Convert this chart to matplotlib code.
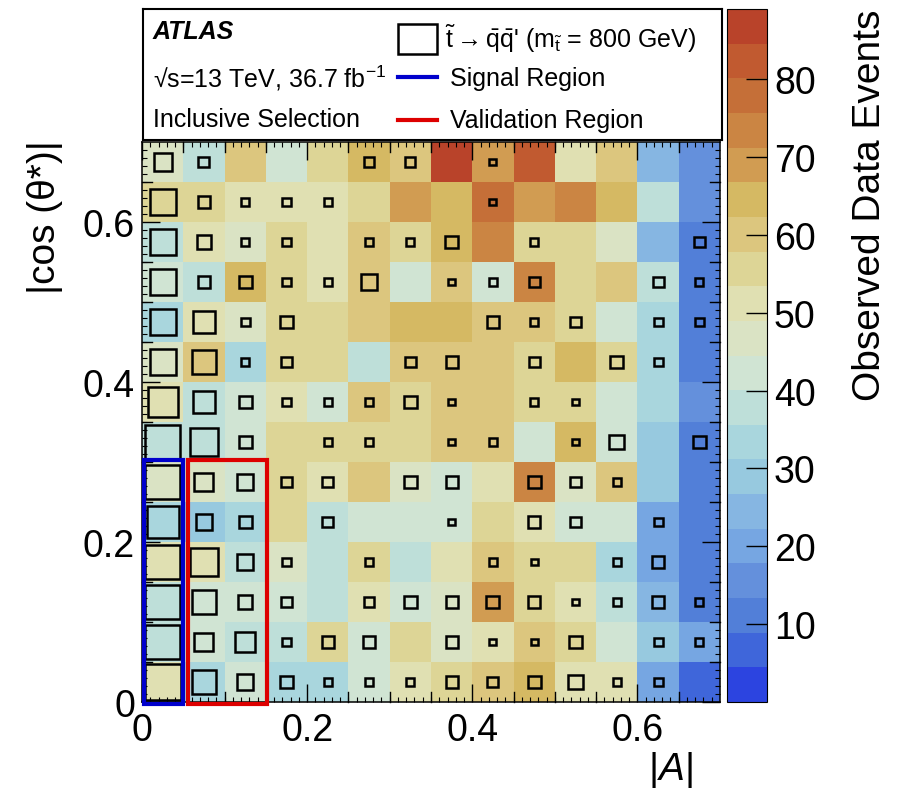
#!/usr/bin/env python3

import numpy as np
import matplotlib
matplotlib.use('Agg')
import matplotlib.pyplot as plt
from matplotlib.colors import ListedColormap, BoundaryNorm
from matplotlib.patches import Rectangle

plt.rcParams['font.family'] = 'Liberation Sans'
plt.rcParams['mathtext.fontset'] = 'custom'
plt.rcParams['mathtext.rm'] = 'Liberation Sans'
plt.rcParams['mathtext.it'] = 'Liberation Sans:italic'
plt.rcParams['mathtext.bf'] = 'Liberation Sans:bold'

# binning of |A| (x) and |cos(theta*)| (y)
a_edges = np.linspace(0.0, 0.7, 15)
cos_edges = np.linspace(0.0, 0.7, 15)

# observed data events, rows listed from top (0.65-0.7) to bottom (0-0.05)
observed_rows = [
    [45, 38, 61, 44, 56, 66, 58, 89, 70, 83, 52, 60, 24, 15],
    [55, 55, 50, 50, 52, 56, 69, 65, 78, 70, 74, 65, 38, 16],
    [40, 53, 47, 57, 52, 61, 57, 65, 74, 57, 56, 46, 24, 11],
    [44, 39, 66, 56, 53, 61, 43, 60, 43, 74, 57, 60, 40, 11],
    [33, 50, 46, 57, 54, 61, 66, 65, 60, 60, 56, 44, 33, 11],
    [48, 61, 33, 57, 57, 39, 58, 61, 61, 56, 66, 54, 33, 11],
    [53, 39, 43, 49, 44, 58, 55, 61, 61, 56, 57, 44, 33, 15],
    [39, 38, 44, 57, 55, 54, 55, 61, 61, 44, 66, 44, 29, 11],
    [48, 46, 44, 57, 53, 61, 48, 44, 53, 74, 47, 61, 29, 11],
    [33, 29, 35, 54, 38, 41, 43, 44, 55, 53, 44, 44, 20, 11],
    [50, 52, 38, 46, 40, 55, 40, 52, 61, 56, 56, 33, 20, 11],
    [39, 44, 44, 44, 40, 53, 44, 46, 70, 55, 49, 38, 24, 11],
    [40, 44, 37, 38, 54, 44, 55, 46, 53, 61, 55, 44, 29, 20],
    [52, 35, 44, 33, 33, 44, 51, 55, 61, 66, 53, 49, 20, 6],
]

# stop -> qq signal (box size), same row order
signal_rows = [
    [18, 11, 0, 0, 0, 10, 10, 0, 7, 0, 0, 0, 0, 0],
    [26, 12, 8, 9, 8, 0, 0, 0, 7, 0, 0, 0, 0, 0],
    [26, 14, 8, 8, 0, 8, 8, 13, 0, 8, 0, 0, 0, 11],
    [26, 12, 13, 8, 8, 16, 0, 7, 8, 11, 0, 0, 11, 8],
    [26, 22, 9, 13, 0, 0, 0, 0, 12, 8, 11, 0, 9, 9],
    [26, 24, 8, 11, 0, 0, 11, 12, 0, 11, 0, 13, 9, 0],
    [30, 22, 13, 8, 8, 8, 13, 7, 0, 8, 7, 0, 0, 0],
    [35, 28, 13, 0, 8, 8, 0, 7, 8, 0, 7, 15, 0, 13],
    [35, 19, 16, 11, 11, 0, 13, 12, 0, 13, 11, 8, 0, 0],
    [32, 16, 13, 0, 11, 0, 0, 7, 0, 12, 11, 0, 9, 0],
    [35, 28, 16, 8, 0, 8, 0, 0, 8, 7, 0, 8, 12, 0],
    [35, 24, 14, 11, 0, 10, 13, 12, 13, 12, 7, 8, 12, 8],
    [35, 19, 20, 8, 12, 12, 0, 12, 7, 7, 13, 0, 9, 8],
    [36, 24, 16, 13, 8, 8, 8, 12, 11, 13, 14, 8, 9, 0],
]
signal_full = 41.0

# regions: (x_lo, x_hi, y_lo, y_hi)
signal_region = (0.0, 0.05, 0.0, 0.3)
validation_region = (0.05, 0.15, 0.0, 0.3)

z_min = 0.0
z_max = 89.0
n_levels = 20

palette = ['#2c44e0', '#3f66da', '#527fd8', '#6490dc', '#76a6e2',
           '#86b6e2', '#97c9df', '#a9d6dd', '#bedfd9', '#d0e4d3',
           '#dae3c4', '#e0e0b2', '#ddd596', '#dcc67e', '#d5b963',
           '#d19c52', '#cb8543', '#c56f38', '#c15a30', '#b9432a']

x_ticks = [0.0, 0.2, 0.4, 0.6]
x_ticklabels = ['0', '0.2', '0.4', '0.6']
cbar_ticks = [10, 20, 30, 40, 50, 60, 70, 80]

W, H = 899.0, 804.0


def medium_ticks(ax, vals, axis):
    # ROOT style secondary ticks every 0.05
    for v in vals:
        if abs(v / 0.2 - round(v / 0.2)) < 1e-6:
            continue
        if axis == 'x':
            tr = ax.get_xaxis_transform()
            ax.plot([v, v], [0, 0.017], color='k', lw=1, transform=tr, clip_on=False)
            ax.plot([v, v], [1, 1 - 0.017], color='k', lw=1, transform=tr, clip_on=False)
        else:
            tr = ax.get_yaxis_transform()
            ax.plot([0, 0.017], [v, v], color='k', lw=1, transform=tr, clip_on=False)
            ax.plot([1, 1 - 0.017], [v, v], color='k', lw=1, transform=tr, clip_on=False)


def main():
    observed = np.array(observed_rows, dtype=float)[::-1]
    signal = np.array(signal_rows, dtype=float)[::-1]

    fig = plt.figure(figsize=(W / 100, H / 100), dpi=100)
    ax = fig.add_axes([142 / W, 101 / H, 578 / W, 560 / H])

    cmap = ListedColormap(palette)
    norm = BoundaryNorm(np.linspace(z_min, z_max, n_levels + 1), cmap.N)
    mesh = ax.pcolormesh(a_edges, cos_edges, observed, cmap=cmap, norm=norm)

    bw = a_edges[1] - a_edges[0]
    bh = cos_edges[1] - cos_edges[0]
    for iy in range(signal.shape[0]):
        for ix in range(signal.shape[1]):
            s = signal[iy, ix]
            if s <= 0:
                continue
            xc = 0.5 * (a_edges[ix] + a_edges[ix + 1])
            yc = 0.5 * (cos_edges[iy] + cos_edges[iy + 1])
            sw = bw * s / signal_full
            sh = bh * s / signal_full
            ax.add_patch(Rectangle((xc - sw / 2, yc - sh / 2), sw, sh,
                                   fill=False, ec='black', lw=1.8, zorder=3))

    x0, x1, y0, y1 = signal_region
    ax.add_patch(Rectangle((x0 + 0.002, y0 - 0.003), x1 - x0 - 0.002, y1 - y0 + 0.006,
                           fill=False, ec='#0000cc', lw=3, zorder=6, clip_on=False))
    x0, x1, y0, y1 = validation_region
    ax.add_patch(Rectangle((x0 + 0.006, y0 - 0.003), x1 - x0 - 0.005, y1 - y0 + 0.006,
                           fill=False, ec='#dd0000', lw=3, zorder=6, clip_on=False))

    ax.set_xlim(a_edges[0], a_edges[-1])
    ax.set_ylim(cos_edges[0], cos_edges[-1])
    ax.set_xticks(x_ticks)
    ax.set_xticklabels(x_ticklabels)
    ax.set_yticks(x_ticks)
    ax.set_yticklabels(x_ticklabels)
    ax.set_xticks(np.arange(0, 0.7, 0.01), minor=True)
    ax.set_yticks(np.arange(0, 0.7, 0.01), minor=True)
    ax.tick_params(which='both', direction='in', top=True, right=True)
    ax.tick_params(which='major', length=13, width=1, labelsize=27)
    ax.tick_params(which='minor', length=3.5, width=0.8)
    ax.tick_params(axis='x', which='major', pad=7)
    ax.tick_params(axis='y', which='major', pad=5)
    medium_ticks(ax, np.arange(0.05, 0.7, 0.05), 'x')
    medium_ticks(ax, np.arange(0.05, 0.7, 0.05), 'y')
    for sp in ax.spines.values():
        sp.set_linewidth(1.1)

    # colour bar
    cax = fig.add_axes([727 / W, 101 / H, 40 / W, 693 / H])
    cb = fig.colorbar(mesh, cax=cax, ticks=cbar_ticks)
    cb.outline.set_linewidth(0.8)
    cax.tick_params(direction='in', length=15, width=1, labelsize=27, pad=5)
    cax.minorticks_off()

    fig.text(45 / W, 1 - 140 / H, '|cos (θ*)|', rotation=90, ha='center', va='top', fontsize=28)
    fig.text(693 / W, 1 - 770 / H, r'$|A|$', ha='right', va='center', fontsize=28)
    fig.text(870 / W, 1 - 10 / H, 'Observed Data Events', rotation=90, ha='center', va='top', fontsize=28)

    # legend box
    lax = fig.add_axes([143 / W, 1 - 141 / H, 579 / W, 131 / H])
    lax.set_xlim(0, 1)
    lax.set_ylim(0, 1)
    lax.set_xticks([])
    lax.set_yticks([])
    for sp in lax.spines.values():
        sp.set_linewidth(1.5)

    lax.text(0.017, 0.83, 'ATLAS', fontsize=18, fontweight='bold', style='italic', va='center')
    lax.text(0.017, 0.48, '√s=13 TeV, 36.7 fb$^{\\mathrm{-1}}$', fontsize=18, va='center')
    lax.text(0.017, 0.16, 'Inclusive Selection', fontsize=18, va='center')

    lax.add_patch(Rectangle((0.44, 0.66), 0.068, 0.225, fill=False, ec='black', lw=1.8))
    lax.text(0.522, 0.78, r'$\tilde{\mathrm{t}} \rightarrow \bar{\mathrm{q}}\bar{\mathrm{q}}$' + "' (m$_{\\tilde{\\mathrm{t}}}$ = 800 GeV)",
             fontsize=18, va='center')
    lax.plot([0.44, 0.508], [0.48, 0.48], color='#0000cc', lw=3)
    lax.text(0.53, 0.47, 'Signal Region', fontsize=18, va='center')
    lax.plot([0.44, 0.508], [0.153, 0.153], color='#dd0000', lw=3)
    lax.text(0.53, 0.15, 'Validation Region', fontsize=18, va='center')

    plt.savefig('out.png', dpi=100)


if __name__ == "__main__":
    main()
